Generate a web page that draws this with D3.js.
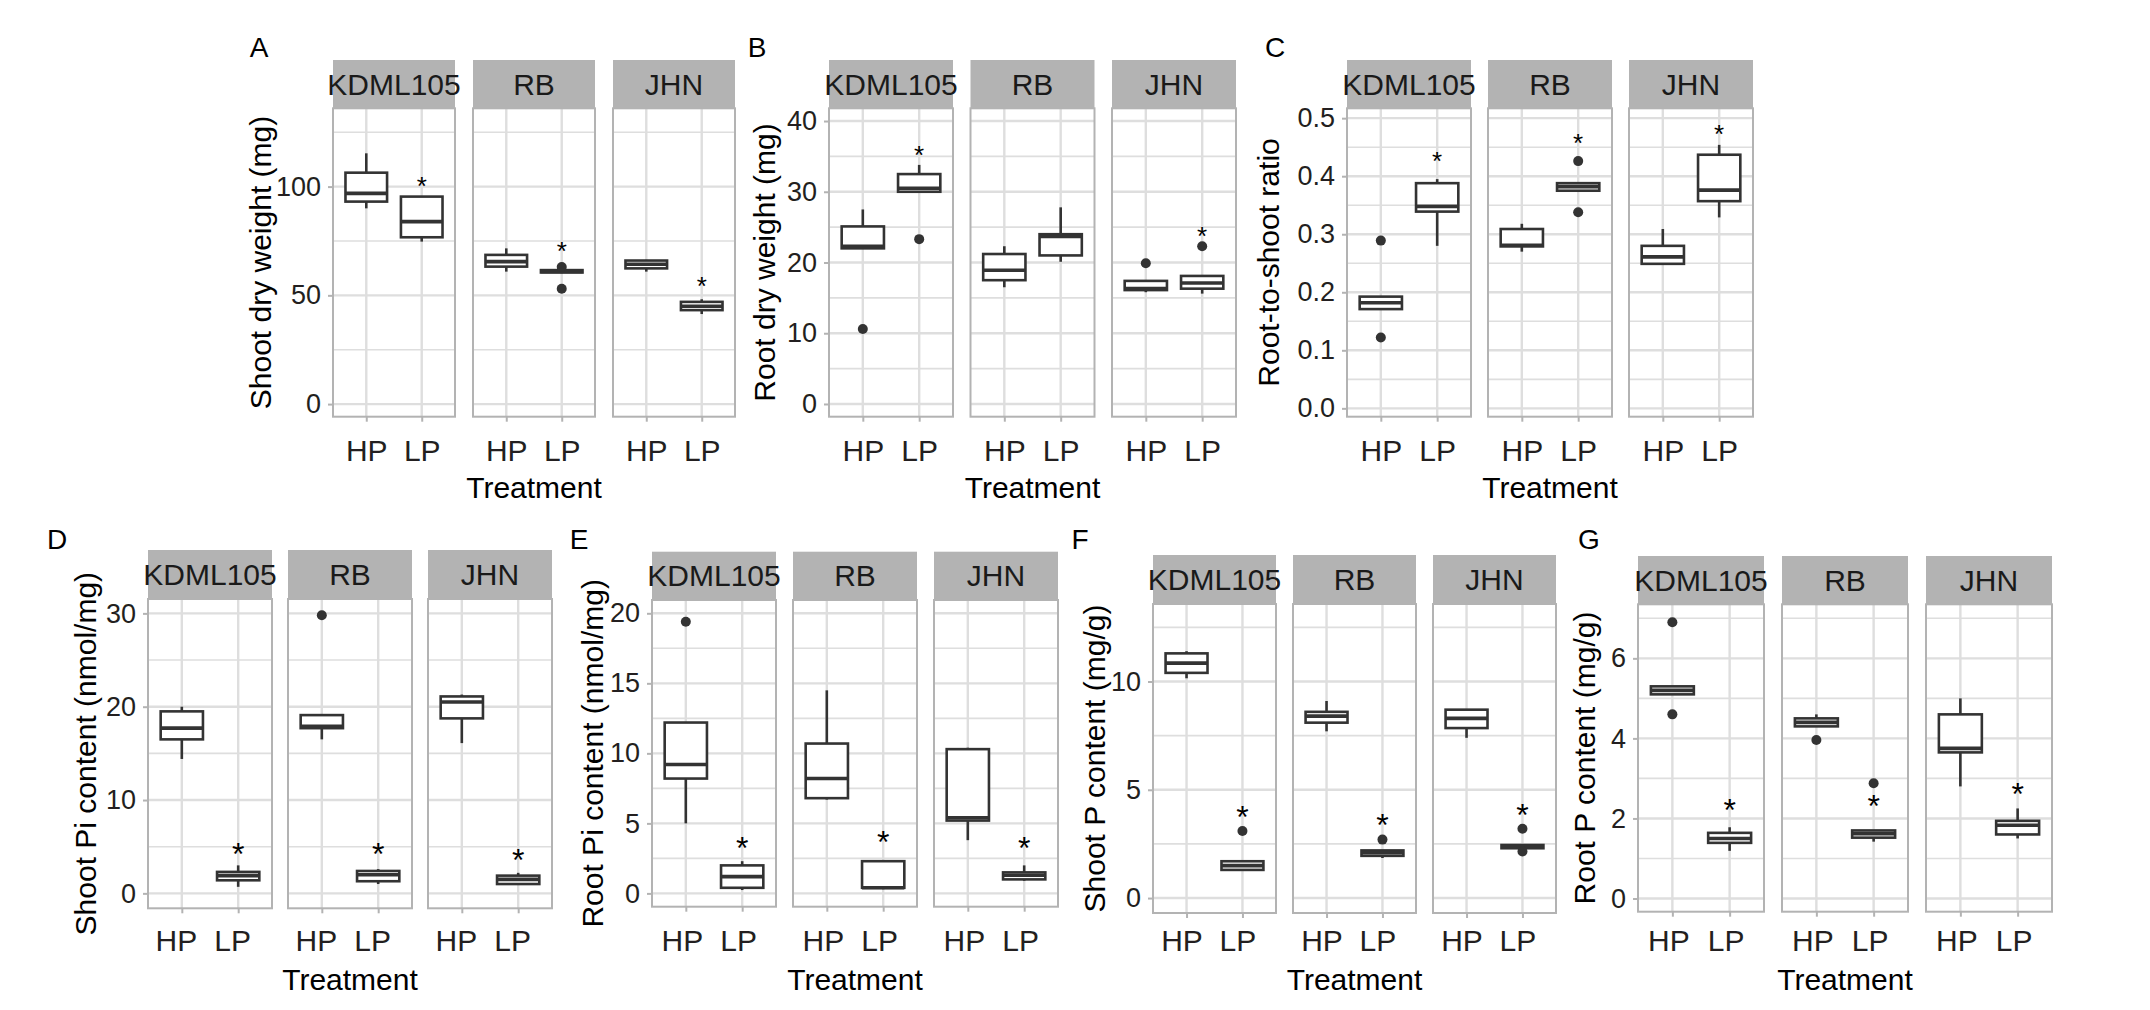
<!DOCTYPE html>
<html>
<head>
<meta charset="utf-8">
<script src="https://cdn.jsdelivr.net/npm/d3@7"></script>
<style>
body { margin: 0; background: #fff; }
text { font-family: 'Liberation Sans', Arial, sans-serif; }
</style>
</head>
<body>
<svg id="fig" width="2150" height="1010"></svg>
<script>
var genotypes = ['KDML105', 'RB', 'JHN']
var treatments = ['HP', 'LP']
var panelLetters = ['A', 'B', 'C', 'D', 'E', 'F', 'G']
var yTitles = ['Shoot dry weight (mg)', 'Root dry weight (mg)', 'Root-to-shoot ratio',
    'Shoot Pi content (nmol/mg)', 'Root Pi content (nmol/mg)', 'Shoot P content (mg/g)', 'Root P content (mg/g)']

// box stats [lower, q1, median, q3, upper]; order: KDML105 HP, KDML105 LP, RB HP, RB LP, JHN HP, JHN LP
var shootDW = [[90.0, 93.1, 96.9, 106.4, 115.3], [74.7, 76.7, 83.9, 95.4, 95.4], [60.9, 63.2, 65.5, 68.6, 71.6],
    [60.2, 60.5, 61.0, 61.6, 61.9], [60.9, 62.4, 64.3, 66.0, 66.3], [41.4, 43.2, 45.0, 47.0, 48.2]]
var shootDW_out = [[], [], [], [63.0, 53.0], [], []]
var shootDW_star = [null, 103, null, 73, null, 57]

var rootDW = [[22.0, 22.0, 22.3, 25.1, 27.5], [30.0, 30.0, 30.5, 32.5, 33.8], [16.5, 17.5, 18.9, 21.2, 22.3],
    [20.1, 21.0, 23.7, 24.0, 27.8], [15.8, 16.1, 16.3, 17.4, 17.4], [15.6, 16.3, 17.1, 18.1, 18.1]]
var rootDW_out = [[10.6], [23.3], [], [], [19.9], [22.3]]
var rootDW_star = [null, 36, null, null, null, 24.6]

var ratio = [[0.171, 0.171, 0.182, 0.1925, 0.1925], [0.280, 0.339, 0.348, 0.388, 0.395], [0.270, 0.279, 0.281, 0.309, 0.318],
    [0.375, 0.375, 0.382, 0.388, 0.388], [0.249, 0.249, 0.261, 0.280, 0.309], [0.329, 0.357, 0.376, 0.437, 0.454]]
var ratio_out = [[0.289, 0.122], [], [], [0.426, 0.338], [], []]
var ratio_star = [null, 0.437, null, 0.468, null, 0.483]

var shootPi = [[14.4, 16.5, 17.7, 19.5, 20.0], [0.7, 1.4, 1.9, 2.3, 3.0], [16.5, 17.7, 17.9, 19.1, 19.1],
    [1.0, 1.3, 2.0, 2.4, 2.6], [16.1, 18.75, 20.5, 21.1, 21.3], [1.0, 1.0, 1.5, 1.9, 2.2]]
var shootPi_out = [[], [], [29.8], [], [], []]
var shootPi_star = [null, 5.0, null, 5.0, null, 4.4]

var rootPi = [[5.0, 8.2, 9.2, 12.2, 12.2], [0.24, 0.4, 1.2, 2.0, 2.3], [6.7, 6.8, 8.2, 10.7, 14.5],
    [0.3, 0.4, 0.4, 2.3, 2.3], [3.8, 5.2, 5.4, 10.3, 10.4], [0.9, 1.0, 1.3, 1.5, 2.0]]
var rootPi_out = [[19.4], [], [], [], [], []]
var rootPi_star = [null, 3.8, null, 4.2, null, 3.8]

var shootP = [[10.15, 10.4, 10.85, 11.3, 11.4], [1.25, 1.3, 1.5, 1.7, 1.75], [7.7, 8.1, 8.4, 8.6, 9.1],
    [1.85, 1.95, 2.1, 2.2, 2.2], [7.4, 7.85, 8.3, 8.7, 8.7], [2.3, 2.3, 2.4, 2.45, 2.45]]
var shootP_out = [[], [3.1], [], [2.7], [], [3.2, 2.15]]
var shootP_star = [null, 4.1, null, 3.7, null, 4.2]

var rootP = [[5.1, 5.1, 5.2, 5.3, 5.3], [1.19, 1.39, 1.5, 1.64, 1.78], [4.3, 4.3, 4.4, 4.5, 4.6],
    [1.42, 1.52, 1.62, 1.7, 1.7], [2.8, 3.65, 3.75, 4.6, 5.0], [1.5, 1.6, 1.83, 1.94, 2.25]]
var rootP_out = [[6.9, 4.6], [], [3.96], [2.88], [], []]
var rootP_star = [null, 2.4, null, 2.5, null, 2.8]

var yTicks = [[0, 50, 100], [0, 10, 20, 30, 40], [0, 0.1, 0.2, 0.3, 0.4, 0.5],
    [0, 10, 20, 30], [0, 5, 10, 15, 20], [0, 5, 10], [0, 2, 4, 6]]
var yLimits = [[-5.8, 136], [-1.8, 41.8], [-0.0144, 0.517], [-1.6, 31.54], [-0.95, 20.95], [-0.69, 13.58], [-0.33, 7.35]]

// layout of each panel (pixels)
var layout = [
    {x0: 333, step: 140, w: 122, stripTop: 60, top: 108.3, bottom: 416.7, labelY: 461, treatY: 498, letter: [259, 57], titleX: 260, dx: 0},
    {x0: 829, step: 141.5, w: 124, stripTop: 60, top: 108.3, bottom: 416.7, labelY: 461, treatY: 498, letter: [757, 57], titleX: 764, dx: 0},
    {x0: 1347, step: 141, w: 124, stripTop: 60, top: 108.3, bottom: 416.7, labelY: 461, treatY: 498, letter: [1275, 57], titleX: 1268, dx: 0},
    {x0: 148, step: 140, w: 124, stripTop: 550, top: 599, bottom: 908.3, labelY: 951, treatY: 990, letter: [57, 549], titleX: 85, dx: -6},
    {x0: 652, step: 141, w: 124, stripTop: 551.7, top: 600, bottom: 906.7, labelY: 951, treatY: 990, letter: [579, 549], titleX: 592, dx: -4},
    {x0: 1153, step: 140, w: 123, stripTop: 555, top: 604, bottom: 913, labelY: 951, treatY: 990, letter: [1080, 549], titleX: 1094, dx: -5},
    {x0: 1638, step: 144, w: 126, stripTop: 556, top: 604.3, bottom: 911.7, labelY: 951, treatY: 990, letter: [1589, 549], titleX: 1584, dx: -4}
]

var allStats = [shootDW, rootDW, ratio, shootPi, rootPi, shootP, rootP]
var allOut = [shootDW_out, rootDW_out, ratio_out, shootPi_out, rootPi_out, shootP_out, rootP_out]
var allStar = [shootDW_star, rootDW_star, ratio_star, shootPi_star, rootPi_star, shootP_star, rootP_star]

var panels = panelLetters.map((l, i) => ({
    letter: l, title: yTitles[i], stats: allStats[i], out: allOut[i], star: allStar[i],
    ticks: yTicks[i], limits: yLimits[i], L: layout[i], row: i < 3 ? 1 : 2
}))

var svg = d3.select('#fig')
var ink = '#333333'
var gridCol = '#dedede'
var frameCol = '#b3b3b3'
var labelCol = '#231f20'

panels.forEach(drawPanel)

function drawPanel(p) {
    var L = p.L
    var g = svg.append('g')
    var y = d3.scaleLinear().domain(p.limits).range([L.bottom, L.top])
    var tstep = p.ticks[1] - p.ticks[0]
    var minor = d3.range(p.ticks[0] - tstep / 2, p.limits[1], tstep).filter(v => v > p.limits[0] && v < p.limits[1])
    var starSize = p.row === 1 ? 26 : 32

    genotypes.forEach((gen, gi) => {
        var fx = L.x0 + gi * L.step
        var x = d3.scalePoint().domain(treatments).range([fx, fx + L.w]).padding(0.6)
        var bw = x.step() * 0.75
        var f = g.append('g')

        // grid
        f.selectAll('line.minor').data(minor).join('line')
            .attr('x1', fx).attr('x2', fx + L.w)
            .attr('y1', d => y(d)).attr('y2', d => y(d))
            .attr('stroke', gridCol).attr('stroke-width', 1.6)
        f.selectAll('line.major').data(p.ticks).join('line')
            .attr('x1', fx).attr('x2', fx + L.w)
            .attr('y1', d => y(d)).attr('y2', d => y(d))
            .attr('stroke', gridCol).attr('stroke-width', 2.4)
        f.selectAll('line.vmajor').data(treatments).join('line')
            .attr('x1', d => x(d)).attr('x2', d => x(d))
            .attr('y1', L.top).attr('y2', L.bottom)
            .attr('stroke', gridCol).attr('stroke-width', 2.4)

        // strip
        f.append('rect')
            .attr('x', fx).attr('y', L.stripTop)
            .attr('width', L.w).attr('height', L.top - L.stripTop)
            .attr('fill', '#b3b3b3')
        f.append('text')
            .attr('x', fx + L.w / 2).attr('y', (L.stripTop + L.top) / 2 + 10.5)
            .attr('text-anchor', 'middle').attr('font-size', 30).attr('fill', '#1a1a1a')
            .text(gen)

        // boxes
        treatments.forEach((t, ti) => {
            var k = gi * 2 + ti
            var s = p.stats[k]
            var cx = x(t)
            var b = f.append('g').attr('stroke', ink).attr('stroke-width', 2.6)
            b.append('line').attr('x1', cx).attr('x2', cx).attr('y1', y(s[0])).attr('y2', y(s[1]))
            b.append('line').attr('x1', cx).attr('x2', cx).attr('y1', y(s[3])).attr('y2', y(s[4]))
            b.append('rect')
                .attr('x', cx - bw / 2).attr('y', y(s[3]))
                .attr('width', bw).attr('height', Math.max(0.5, y(s[1]) - y(s[3])))
                .attr('fill', '#fff')
            b.append('line')
                .attr('x1', cx - bw / 2).attr('x2', cx + bw / 2)
                .attr('y1', y(s[2])).attr('y2', y(s[2]))
                .attr('stroke-width', 3.6)
            f.selectAll(null).data(p.out[k]).join('circle')
                .attr('cx', cx).attr('cy', d => y(d)).attr('r', 5)
                .attr('fill', ink)
            if (p.star[k] !== null) {
                f.append('text')
                    .attr('x', cx).attr('y', y(p.star[k]) + 0.575 * starSize)
                    .attr('text-anchor', 'middle').attr('font-size', starSize).attr('fill', '#000')
                    .text('*')
            }
        })

        // frame
        f.append('rect')
            .attr('x', fx).attr('y', L.top)
            .attr('width', L.w).attr('height', L.bottom - L.top)
            .attr('fill', 'none').attr('stroke', frameCol).attr('stroke-width', 2)

        // x axis
        f.append('g')
            .attr('transform', `translate(0, ${L.bottom})`)
            .call(d3.axisBottom(x).tickSize(5))
            .call(a => a.select('.domain').remove())
            .call(a => a.selectAll('line').attr('stroke', frameCol).attr('stroke-width', 2))
            .call(a => a.selectAll('text')
                .attr('y', L.labelY - L.bottom).attr('dy', null).attr('dx', L.dx)
                .attr('font-size', 30).attr('fill', labelCol).attr('font-family', null))

        // y axis on the first facet
        if (gi === 0) {
            f.append('g')
                .attr('transform', `translate(${fx}, 0)`)
                .call(d3.axisLeft(y).tickValues(p.ticks).tickSize(5).tickPadding(7)
                    .tickFormat(p.letter === 'C' ? d3.format('.1f') : d3.format('d')))
                .call(a => a.select('.domain').remove())
                .call(a => a.selectAll('line').attr('stroke', frameCol).attr('stroke-width', 2))
                .call(a => a.selectAll('text').attr('font-size', 27).attr('fill', labelCol).attr('font-family', null))
        }
    })

    // titles and panel letter
    var mid = L.x0 + L.step + L.w / 2
    g.append('text')
        .attr('x', mid).attr('y', L.treatY)
        .attr('text-anchor', 'middle').attr('font-size', 30).attr('fill', '#000')
        .text('Treatment')
    g.append('text')
        .attr('transform', `translate(${L.titleX}, ${(L.top + L.bottom) / 2}) rotate(-90)`)
        .attr('dy', '0.35em')
        .attr('text-anchor', 'middle').attr('font-size', 30).attr('fill', '#000')
        .text(p.title)
    g.append('text')
        .attr('x', L.letter[0]).attr('y', L.letter[1])
        .attr('text-anchor', 'middle').attr('font-size', 28).attr('fill', '#000')
        .text(p.letter)
}
</script>
</body>
</html>
